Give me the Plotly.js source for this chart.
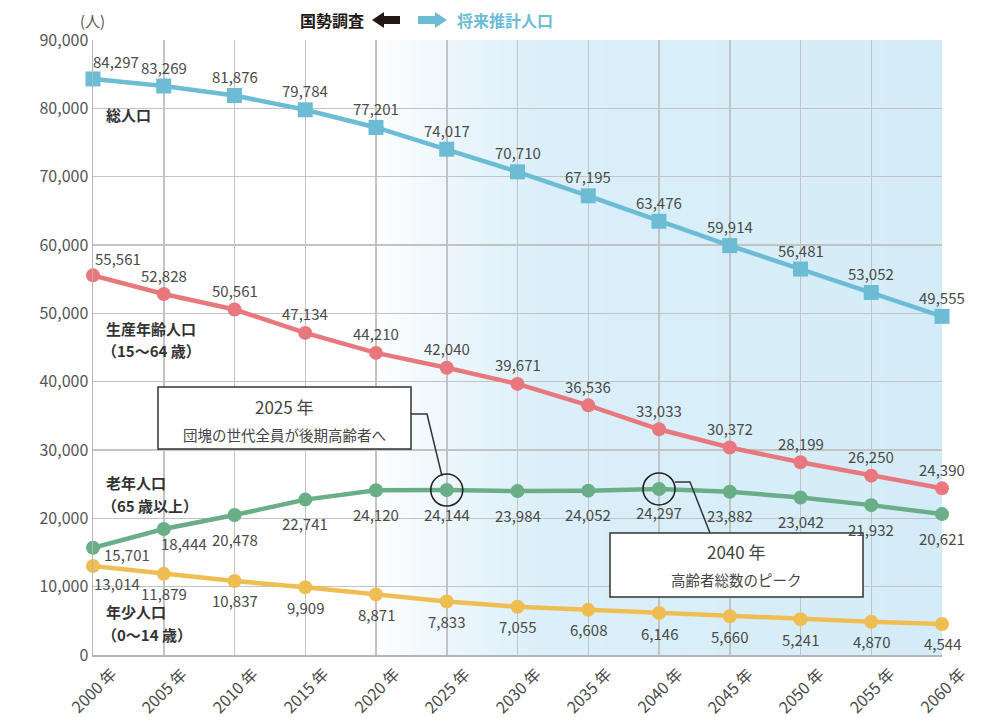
<!DOCTYPE html>
<html>
<head>
<meta charset="utf-8">
<script src="https://cdn.plot.ly/plotly-3.0.1.min.js"></script>
<style>html,body{margin:0;padding:0;background:#fff;}#chart{width:986px;height:718px;}</style>
</head>
<body>
<div id="chart"></div>
<script>
// ---- data ----
const years = [2000, 2005, 2010, 2015, 2020, 2025, 2030, 2035, 2040, 2045, 2050, 2055, 2060];
const xTickLabels = ["2000 年","2005 年","2010 年","2015 年","2020 年","2025 年","2030 年","2035 年","2040 年","2045 年","2050 年","2055 年","2060 年"];
const totalPop   = [84297, 83269, 81876, 79784, 77201, 74017, 70710, 67195, 63476, 59914, 56481, 53052, 49555];
const workingPop = [55561, 52828, 50561, 47134, 44210, 42040, 39671, 36536, 33033, 30372, 28199, 26250, 24390];
const elderlyPop = [15701, 18444, 20478, 22741, 24120, 24144, 23984, 24052, 24297, 23882, 23042, 21932, 20621];
const youthPop   = [13014, 11879, 10837, 9909, 8871, 7833, 7055, 6608, 6146, 5660, 5241, 4870, 4544];
const seriesNames = ["総人口", "生産年齢人口", "老年人口", "年少人口"];
const yTickVals = [0, 10000, 20000, 30000, 40000, 50000, 60000, 70000, 80000, 90000];

// ---- layout helpers ----
const W = 986, H = 718;
const M = {l: 93, r: 44, t: 40, b: 63};
const PW = W - M.l - M.r, PH = H - M.t - M.b;
const px = x => (x - M.l) / PW;
const py = y => (M.t + PH - y) / PH;
const FONT = '"Noto Sans CJK JP", "Noto Sans", sans-serif';

const colors = {total: '#6cbcd6', working: '#e8787e', elderly: '#6aae88', youth: '#efbe53'};

function lineTrace(vals, color, symbol, name) {
  return {
    x: years, y: vals, type: 'scatter', mode: 'lines+markers', name: name,
    line: {color: color, width: 4.5},
    marker: {color: color, size: symbol === 'square' ? 15 : 14, symbol: symbol},
    cliponaxis: false, hoverinfo: 'skip'
  };
}

const traces = [
  lineTrace(youthPop, colors.youth, 'circle', seriesNames[3]),
  lineTrace(elderlyPop, colors.elderly, 'circle', seriesNames[2]),
  lineTrace(workingPop, colors.working, 'circle', seriesNames[1]),
  lineTrace(totalPop, colors.total, 'square', seriesNames[0])
];

const labelFont = {family: FONT, size: 15, color: '#4a4a4a'};
const annotations = [];
// overrides: index -> [xshift, yshift]
function addLabels(vals, yshift, overrides) {
  vals.forEach((v, i) => {
    const o = overrides[i] || [0, yshift];
    annotations.push({
      x: years[i], y: v, xref: 'x', yref: 'y', showarrow: false,
      text: v.toLocaleString('en-US'), font: labelFont,
      xshift: o[0], yshift: o[1]
    });
  });
}
addLabels(totalPop, 19, {0: [23, 17]});
addLabels(workingPop, 19, {0: [25, 17]});
addLabels(elderlyPop, -24, {0: [34, -7], 1: [20, -15]});
addLabels(youthPop, -20, {0: [24, -17]});

// x tick labels (rotated)
years.forEach((yr, i) => {
  annotations.push({x: yr, y: 0, xref: 'x', yref: 'y', showarrow: false, text: xTickLabels[i],
    textangle: -45, xanchor: 'center', yanchor: 'middle', xshift: 0, yshift: -35,
    font: {family: FONT, size: 16, color: '#4a4a4a'}});
});

// series name labels
const nameFont = {family: FONT, size: 15, color: '#333333', weight: 'bold'};
function nameLabel(text, x, y) {
  annotations.push({xref: 'paper', yref: 'paper', x: px(x), y: py(y), xanchor: 'left', yanchor: 'middle',
    showarrow: false, text: text, font: nameFont});
}
nameLabel(seriesNames[0], 104, 114);
nameLabel(seriesNames[1], 104, 328);
nameLabel('（15〜64 歳）', 100, 351);
nameLabel(seriesNames[2], 104, 482);
nameLabel('（65 歳以上）', 100, 505);
nameLabel(seriesNames[3], 104, 611);
nameLabel('（0〜14 歳）', 100, 634);

// unit label
annotations.push({xref: 'paper', yref: 'paper', x: px(92), y: py(20), xanchor: 'center', yanchor: 'middle',
  showarrow: false, text: '(人)', font: {family: FONT, size: 15, color: '#555'}});

// legend texts
annotations.push({xref: 'paper', yref: 'paper', x: px(332), y: py(20), xanchor: 'center', yanchor: 'middle',
  showarrow: false, text: '国勢調査', font: {family: FONT, size: 16, color: '#231815', weight: 'bold'}});
annotations.push({xref: 'paper', yref: 'paper', x: px(505), y: py(20), xanchor: 'center', yanchor: 'middle',
  showarrow: false, text: '将来推計人口', font: {family: FONT, size: 16, color: '#6cbcd6', weight: 'bold'}});

// callout box texts
function boxText(text, cx, cy, size) {
  annotations.push({xref: 'paper', yref: 'paper', x: px(cx), y: py(cy), xanchor: 'center', yanchor: 'middle',
    showarrow: false, text: text, font: {family: FONT, size: size, color: '#444'}});
}
boxText('2025 年', 284, 406, 17);
boxText('団塊の世代全員が後期高齢者へ', 284, 434, 14.5);
boxText('2040 年', 736, 551, 17);
boxText('高齢者総数のピーク', 736, 579, 14.5);

// ---- shapes ----
const shapes = [];
// gradient background for projection period
const blue = [212, 236, 248];
function alphaAt(x) {
  if (x <= 2020) return 0;
  if (x <= 2032) return 0.85 * Math.pow((x - 2020) / 12, 0.8);
  return 0.85 + 0.15 * (x - 2032) / 28;
}
function mix(a) {
  const c = blue.map(b => Math.round(255 + (b - 255) * a));
  return `rgb(${c[0]},${c[1]},${c[2]})`;
}
let gx = 2020;
while (gx < 2060 - 1e-9) {
  const step = gx < 2032 ? 0.4 : 2;
  const x1 = Math.min(2060, gx + step);
  shapes.push({type: 'rect', xref: 'x', yref: 'paper', x0: gx, x1: Math.min(2060, x1 + 0.15), y0: 0, y1: 1,
    fillcolor: mix(alphaAt((gx + x1) / 2)), line: {width: 0}, layer: 'below'});
  gx = x1;
}

// callout boxes
function pathFromPts(pts, close) {
  return pts.map((p, i) => (i ? 'L' : 'M') + px(p[0]) + ',' + py(p[1])).join(' ') + (close ? ' Z' : '');
}
shapes.push({type: 'rect', xref: 'paper', yref: 'paper', x0: px(158), x1: px(411), y0: py(449), y1: py(387),
  fillcolor: '#ffffff', line: {color: '#333', width: 1.5}, layer: 'above'});
shapes.push({type: 'rect', xref: 'paper', yref: 'paper', x0: px(610), x1: px(863), y0: py(597), y1: py(533),
  fillcolor: '#ffffff', line: {color: '#333', width: 1.5}, layer: 'above'});
// connectors
shapes.push({type: 'path', xref: 'paper', yref: 'paper', path: pathFromPts([[411, 414], [427, 414], [442, 476]]),
  line: {color: '#333', width: 1.5}, layer: 'above'});
shapes.push({type: 'path', xref: 'paper', yref: 'paper', path: pathFromPts([[675, 482], [690, 482], [710, 533]]),
  line: {color: '#333', width: 1.5}, layer: 'above'});
// highlight circles
[[2025, elderlyPop[years.indexOf(2025)]], [2040, elderlyPop[years.indexOf(2040)]]].forEach(p => {
  shapes.push({type: 'circle', xref: 'x', yref: 'y', xsizemode: 'pixel', ysizemode: 'pixel',
    xanchor: p[0], yanchor: p[1], x0: -16, x1: 16, y0: -16, y1: 16,
    line: {color: '#222', width: 1.6}, fillcolor: 'rgba(0,0,0,0)', layer: 'above'});
});
// legend arrows
shapes.push({type: 'path', xref: 'paper', yref: 'paper',
  path: pathFromPts([[372, 20], [384, 12], [384, 16], [400, 16], [400, 24], [384, 24], [384, 28]], true),
  fillcolor: '#231815', line: {width: 0}, layer: 'above'});
shapes.push({type: 'path', xref: 'paper', yref: 'paper',
  path: pathFromPts([[447, 20], [435, 12], [435, 16], [418, 16], [418, 24], [435, 24], [435, 28]], true),
  fillcolor: '#6cbcd6', line: {width: 0}, layer: 'above'});

const layout = {
  width: W, height: H,
  margin: M,
  paper_bgcolor: '#ffffff', plot_bgcolor: '#ffffff',
  showlegend: false,
  font: {family: FONT, color: '#555'},
  xaxis: {
    range: [2000, 2060], tickmode: 'array', tickvals: years, showticklabels: false,
    showgrid: true, gridcolor: '#c3c3c3', gridwidth: 1.5,
    showline: true, linecolor: '#b5b5b5', linewidth: 1.5,
    zeroline: false, ticks: '', fixedrange: true
  },
  yaxis: {
    range: [0, 90000], tickmode: 'array', tickvals: yTickVals,
    ticktext: yTickVals.map(v => v.toLocaleString('en-US')),
    tickfont: {family: FONT, size: 16, color: '#555'},
    showgrid: true, gridcolor: '#c3c3c3', gridwidth: 1.5,
    showline: true, linecolor: '#b5b5b5', linewidth: 1.5,
    zeroline: false, ticks: '', fixedrange: true
  },
  annotations: annotations,
  shapes: shapes
};

Plotly.newPlot('chart', traces, layout, {displayModeBar: false, staticPlot: true});
</script>
</body>
</html>
